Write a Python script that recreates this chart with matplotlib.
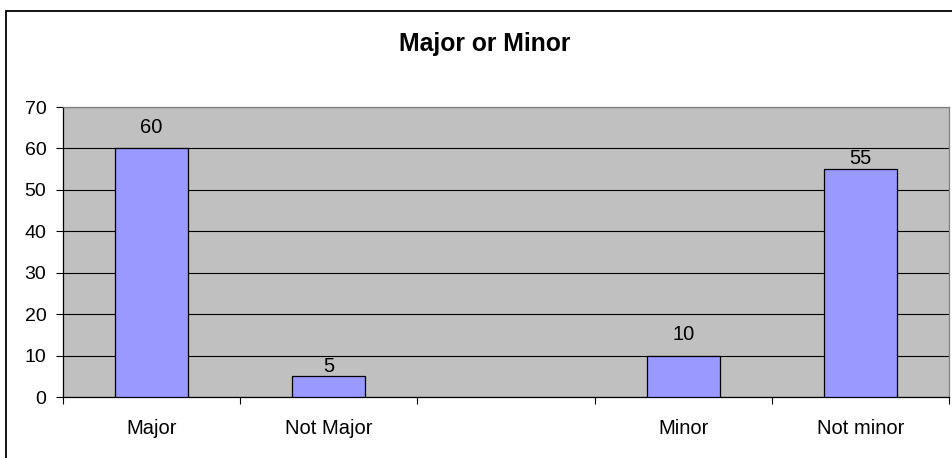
import matplotlib
matplotlib.use("Agg")
import matplotlib.pyplot as plt
from matplotlib.patches import Rectangle

categories = ["Major", "Not Major", "", "Minor", "Not minor"]
values = [60, 5, None, 10, 55]
y_ticks = [0, 10, 20, 30, 40, 50, 60, 70]

plt.rcParams['font.family'] = ['Liberation Sans', 'DejaVu Sans']

W, H = 952, 458
fig = plt.figure(figsize=(W / 100, H / 100), dpi=100)
fig.patch.set_facecolor("white")

# outer chart frame (right/bottom edges are cut off in the reference)
fig.add_artist(Rectangle((6 / W, -0.1), 2, (H - 11) / H + 0.1,
                         transform=fig.transFigure, fill=False,
                         edgecolor="black", linewidth=1.3))

ax = fig.add_axes([63 / W, (H - 397) / H, 886 / W, 290 / H])
ax.set_facecolor("#C0C0C0")

xs = [i for i, v in enumerate(values) if v is not None]
vals = [v for v in values if v is not None]
ax.bar(xs, vals, width=0.41, color="#9999FF", edgecolor="black",
       linewidth=0.9, zorder=3)
# Excel nudged the labels that would sit on a gridline
label_gap = [8.5, 0.5, 8.5, 0.5]
for x, v, g in zip(xs, vals, label_gap):
    ax.annotate(str(v), (x, v), xytext=(0, g), textcoords="offset points",
                ha="center", va="bottom", fontsize=14.5)

ax.set_xlim(-0.5, len(categories) - 0.5)
ax.set_ylim(0, 70)
ax.set_yticks(y_ticks)
ax.tick_params(axis="y", length=5, width=0.8, pad=7, labelsize=14)
ax.yaxis.grid(True, color="black", linewidth=0.8, zorder=1)
ax.set_axisbelow(True)

# category boundaries as ticks, names centred in between
ax.set_xticks([i - 0.5 for i in range(len(categories) + 1)])
ax.set_xticklabels([])
ax.set_xticks(range(len(categories)), minor=True)
ax.set_xticklabels(categories, minor=True)
ax.tick_params(axis="x", which="major", length=5, width=0.8, direction="out")
ax.tick_params(axis="x", which="minor", length=0, pad=15.5, labelsize=14.5)

ax.spines["left"].set_color("black")
ax.spines["bottom"].set_color("black")
ax.spines["top"].set_color("#808080")
ax.spines["right"].set_color("#808080")
for s in ax.spines.values():
    s.set_linewidth(0.9)

fig.text(485 / W, 1 - 44 / H, "Major or Minor", ha="center", va="center",
         fontsize=17.8, fontweight="bold")

fig.savefig("out.png", dpi=100)
